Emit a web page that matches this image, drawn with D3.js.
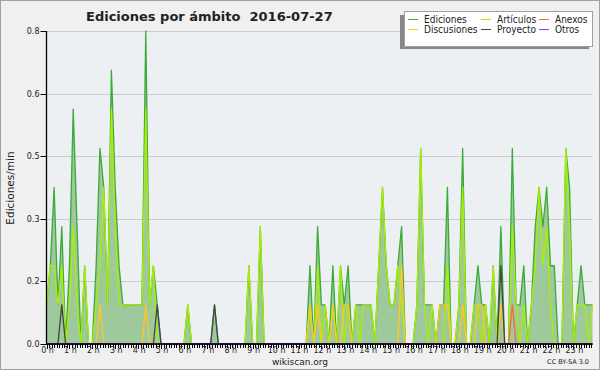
<!DOCTYPE html>
<html lang="es">
<head>
<meta charset="utf-8"/>
<title>Ediciones por ámbito 2016-07-27</title>
<script src="https://d3js.org/d3.v7.min.js"></script>
<style>
body { margin: 0; background: #f0f0f0; }
text { font-family: "DejaVu Sans", sans-serif; fill: #222; }
.title { font-size: 13px; font-weight: bold; white-space: pre; }
.tick-label { font-size: 8px; }
.legend-label { font-family: "DejaVu Sans Condensed", "DejaVu Sans", sans-serif; font-size: 10px; }
.grid { stroke: #cccccc; stroke-width: 1; }
.axis-line { stroke: #000; stroke-width: 1.3; }
.serie { fill: none; stroke-width: 1.3; stroke-linejoin: round; }
</style>
</head>
<body>
<div id="chart"></div>
<script>
// 10 minute bins, 144 per day, values in edits/min
var ediciones = [
  0.1,0.2,0.4,0.1,0.3,0,0.2,0.6,0.3,0,0.2,0,
  0,0.2,0.5,0.4,0.1,0.7,0.4,0.2,0.1,0.1,0.1,0.1,
  0.1,0.1,0.8,0.1,0.2,0.1,0,0,0,0,0,0,
  0,0.1,0,0,0,0,0,0,0.1,0,0,0,
  0,0,0,0,0,0.2,0,0,0.3,0,0,0,
  0,0,0,0,0,0,0,0,0,0.2,0,0.3,
  0.1,0.1,0,0.2,0,0.2,0.1,0.2,0,0.1,0.1,0.1,
  0.1,0.1,0,0.2,0.4,0.2,0.1,0.1,0.2,0.3,0,0,
  0,0.1,0.5,0.1,0.1,0.1,0,0.1,0.1,0.4,0,0,
  0.1,0.5,0,0,0.1,0.2,0.1,0.1,0,0.2,0,0.3,
  0,0,0.5,0.1,0.1,0.2,0,0.1,0.3,0.4,0.3,0.4,
  0.2,0.2,0,0,0.5,0.4,0,0.1,0.2,0.1,0.1,0.1
];
var articulos = [
  0.1,0.2,0.2,0.1,0.2,0,0.1,0.3,0.1,0,0.2,0,
  0,0.1,0.2,0.4,0.1,0.6,0.3,0.1,0.1,0.1,0.1,0.1,
  0.1,0.1,0.6,0.1,0.2,0,0,0,0,0,0,0,
  0,0.1,0,0,0,0,0,0,0,0,0,0,
  0,0,0,0,0,0.2,0,0,0.3,0,0,0,
  0,0,0,0,0,0,0,0,0,0.1,0,0.2,
  0,0.1,0,0.1,0,0.2,0,0.1,0,0.1,0,0.1,
  0.1,0.1,0,0.2,0.4,0.2,0.1,0.1,0.2,0.1,0,0,
  0,0.1,0.5,0.1,0,0.1,0,0,0,0.2,0,0,
  0.1,0.4,0,0,0.1,0.1,0,0.1,0,0.2,0,0,
  0,0,0.3,0.1,0,0.1,0,0.1,0.2,0.4,0.2,0.3,
  0.1,0,0,0,0.5,0.3,0,0.1,0.1,0.1,0,0.1
];
var anexos = [
  0,0,0,0,0,0,0,0,0,0,0,0,
  0,0,0,0,0,0,0,0,0,0,0,0,
  0,0,0,0,0,0,0,0,0,0,0,0,
  0,0,0,0,0,0,0,0,0,0,0,0,
  0,0,0,0,0,0,0,0,0,0,0,0,
  0,0,0,0,0,0,0,0,0,0,0,0,
  0,0,0,0,0,0,0,0,0,0,0,0,
  0,0,0,0,0,0,0,0,0,0,0,0,
  0,0,0,0,0,0,0,0,0,0,0,0,
  0,0,0,0,0,0,0,0,0,0,0,0,
  0,0,0.1,0,0,0,0,0,0,0,0,0,
  0,0,0,0,0,0,0,0,0,0,0,0
];
var discusiones = [
  0,0,0,0,0,0,0,0,0,0,0,0,
  0,0,0.1,0,0,0,0,0,0,0,0,0,
  0,0,0.1,0,0,0,0,0,0,0,0,0,
  0,0,0,0,0,0,0,0,0,0,0,0,
  0,0,0,0,0,0,0,0,0,0,0,0,
  0,0,0,0,0,0,0,0,0,0.1,0,0.1,
  0,0,0,0.1,0,0,0.1,0.1,0,0,0,0,
  0,0,0,0,0,0,0,0,0,0.2,0,0,
  0,0,0,0,0,0,0,0.1,0.1,0.1,0,0,
  0,0.1,0,0,0,0.1,0.1,0,0,0,0,0.1,
  0,0,0,0,0,0,0,0,0,0,0,0,
  0,0,0,0,0,0,0,0,0,0,0,0
];
var proyecto = [
  0,0,0,0,0.1,0,0,0,0,0,0,0,
  0,0,0,0,0,0,0,0,0,0,0,0,
  0,0,0,0,0,0.1,0,0,0,0,0,0,
  0,0,0,0,0,0,0,0,0.1,0,0,0,
  0,0,0,0,0,0,0,0,0,0,0,0,
  0,0,0,0,0,0,0,0,0,0,0,0,
  0,0,0,0,0,0,0,0,0,0,0,0,
  0,0,0,0,0,0,0,0,0,0,0,0,
  0,0,0,0,0,0,0,0,0,0,0,0,
  0,0,0,0,0,0,0,0,0,0,0,0.2,
  0,0,0,0,0,0,0,0,0,0,0,0,
  0,0,0,0,0,0,0,0,0,0,0,0
];
var otros = [
  0,0,0,0,0,0,0,0,0,0,0,0,
  0,0,0,0,0,0,0,0,0,0,0,0,
  0,0,0,0,0,0,0,0,0,0,0,0,
  0,0,0,0,0,0,0,0,0,0,0,0,
  0,0,0,0,0,0,0,0,0,0,0,0,
  0,0,0,0,0,0,0,0,0,0,0,0,
  0,0,0,0,0,0,0,0,0,0,0,0,
  0,0,0,0,0,0,0,0,0,0,0,0,
  0,0,0,0,0,0,0,0,0,0,0,0,
  0,0,0,0,0,0,0,0,0,0,0,0,
  0,0,0,0,0,0,0,0,0,0,0,0,
  0,0,0,0,0,0,0,0,0,0,0,0
];
var hourLabels = ["0 h","1 h","2 h","3 h","4 h","5 h","6 h","7 h","8 h","9 h","10 h","11 h",
                  "12 h","13 h","14 h","15 h","16 h","17 h","18 h","19 h","20 h","21 h","22 h","23 h"];
var yTicks = [0, 0.16, 0.32, 0.48, 0.64, 0.8];
var legendNames = ["Ediciones", "Artículos", "Anexos", "Discusiones", "Proyecto", "Otros"];
var legendColors = ["#3aaa3a", "#aaee00", "#ff6633", "#ffc820", "#444444", "#9933ff"];

var w = 600, h = 370;
var plotL = 46.5, plotR = 592.5, plotT = 31, plotB = 344;

var svg = d3.select("#chart").append("svg")
    .attr("width", w)
    .attr("height", h);

svg.append("rect")
    .attr("x", 0.5).attr("y", 0.5)
    .attr("width", w - 1).attr("height", h - 1)
    .attr("fill", "#f0f0f0")
    .attr("stroke", "#a0a0a0");

svg.append("rect")
    .attr("x", plotL).attr("y", plotT)
    .attr("width", plotR - plotL).attr("height", plotB - plotT)
    .attr("fill", "#edf0f2");

var xScale = d3.scaleLinear().domain([0, ediciones.length - 1]).range([plotL, plotR]);
var yScale = d3.scaleLinear().domain([0, 0.8]).range([plotB, plotT]);

// grid + y ticks
svg.selectAll(".grid").data(yTicks).enter().append("line")
    .attr("class", "grid")
    .attr("x1", plotL).attr("x2", plotR)
    .attr("y1", function(d){ return Math.round(yScale(d)) + 0.5; })
    .attr("y2", function(d){ return Math.round(yScale(d)) + 0.5; });

// area for Ediciones
var area = d3.area()
    .x(function(d, i){ return xScale(i); })
    .y0(yScale(0))
    .y1(function(d){ return yScale(d); });

svg.append("path")
    .datum(ediciones)
    .attr("fill", "#9ec99c")
    .attr("d", area);

var line = d3.line()
    .x(function(d, i){ return xScale(i); })
    .y(function(d){ return yScale(d); });

var series = [ediciones, articulos, anexos, discusiones, proyecto, otros];
series.forEach(function(s, k){
    svg.append("path")
        .datum(s)
        .attr("class", "serie")
        .attr("stroke", legendColors[k])
        .attr("d", line);
});

// axes
svg.append("line").attr("class", "axis-line")
    .attr("x1", plotL).attr("x2", plotL).attr("y1", plotT).attr("y2", plotB);
svg.append("line").attr("class", "axis-line")
    .attr("x1", plotL - 0.5).attr("x2", plotR).attr("y1", plotB).attr("y2", plotB);

svg.selectAll(".ytick").data(yTicks).enter().append("line")
    .attr("stroke", "#000")
    .attr("x1", plotL - 6).attr("x2", plotL)
    .attr("y1", function(d){ return Math.round(yScale(d)) + 0.5; })
    .attr("y2", function(d){ return Math.round(yScale(d)) + 0.5; });

svg.selectAll(".ylabel").data(yTicks).enter().append("text")
    .attr("class", "tick-label")
    .attr("text-anchor", "end")
    .attr("x", plotL - 7)
    .attr("y", function(d){ return yScale(d) + 3; })
    .text(d3.format(".1f"));

// x ticks, 9 per hour
var minor = d3.range(0, 24 * 9).map(function(k){ return k * 6 / 9; })
    .filter(function(b){ return xScale(b) <= plotR + 0.5; });
svg.selectAll(".xtick").data(minor).enter().append("line")
    .attr("stroke", "#000")
    .attr("x1", function(d){ return Math.round(xScale(d)) + 0.5; })
    .attr("x2", function(d){ return Math.round(xScale(d)) + 0.5; })
    .attr("y1", plotB)
    .attr("y2", function(d, i){ return i % 9 === 0 ? plotB + 5 : plotB + 4; });

svg.selectAll(".xlabel").data(hourLabels).enter().append("text")
    .attr("class", "tick-label")
    .attr("text-anchor", "middle")
    .attr("x", function(d, i){ return xScale(i * 6) + 1; })
    .attr("y", 353)
    .text(function(d){ return d; });

// titles
svg.append("text")
    .attr("class", "title")
    .attr("x", 86).attr("y", 21)
    .text("Ediciones por ámbito  2016-07-27");

svg.append("text")
    .attr("transform", "translate(13.5,188) rotate(-90)")
    .attr("text-anchor", "middle")
    .style("font-size", "10.5px")
    .text("Ediciones/min");

svg.append("text")
    .attr("x", 300).attr("y", 365)
    .attr("text-anchor", "middle")
    .style("font-size", "9px")
    .text("wikiscan.org");

svg.append("text")
    .attr("x", 589).attr("y", 364)
    .attr("text-anchor", "end")
    .style("font-size", "6.5px")
    .text("CC BY-SA 3.0");

// legend
var lg = svg.append("g");
lg.append("rect")
    .attr("x", 400).attr("y", 15)
    .attr("width", 189).attr("height", 34)
    .attr("fill", "#888");
lg.append("rect")
    .attr("x", 404.5).attr("y", 11.5)
    .attr("width", 188).attr("height", 35)
    .attr("fill", "#fff")
    .attr("stroke", "#a0a0a0");

var colX = [408, 481, 539];
legendNames.forEach(function(name, k){
    var cx = colX[k % 3];
    var cy = k < 3 ? 19.5 : 29.5;
    lg.append("line")
        .attr("x1", cx).attr("x2", cx + 10)
        .attr("y1", cy).attr("y2", cy)
        .attr("stroke", legendColors[k])
        .attr("stroke-width", 1);
    lg.append("text")
        .attr("class", "legend-label")
        .attr("x", cx + 16)
        .attr("y", cy + 3.5)
        .text(name);
});
</script>
</body>
</html>
